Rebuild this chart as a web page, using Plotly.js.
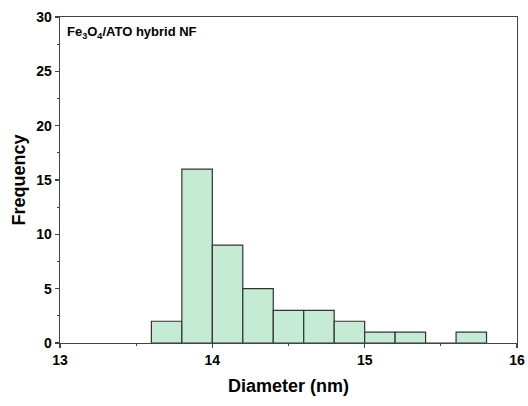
<!DOCTYPE html>
<html>
<head>
<meta charset="utf-8">
<script src="https://cdn.plot.ly/plotly-3.0.1.min.js"></script>
<style>html,body{margin:0;padding:0;background:#fff;}#chart{width:528px;height:406px;}</style>
</head>
<body>
<div id="chart"></div>
<script>
const binCenters = [13.7, 13.9, 14.1, 14.3, 14.5, 14.7, 14.9, 15.1, 15.3, 15.5, 15.7];
const frequency = [2, 16, 9, 5, 3, 3, 2, 1, 1, 0, 1];
const binWidth = 0.2;
const xTicks = [13, 14, 15, 16];
const yTicks = [0, 5, 10, 15, 20, 25, 30];
const labelText = '<b>Fe<sub>3</sub>O<sub>4</sub>/ATO hybrid NF</b>';

const font = 'Arial, "Liberation Sans", sans-serif';
const axisCommon = {
  showline: true, mirror: true, linecolor: '#444', linewidth: 1.3,
  ticks: 'outside', ticklen: 4, tickwidth: 1.3, tickcolor: '#444',
  showgrid: false, zeroline: false,
  tickfont: {family: font, size: 14, color: '#000'},
  minor: {ticks: 'outside', ticklen: 2, tickwidth: 1.2, tickcolor: '#444', showgrid: false}
};

const data = [{
  type: 'bar', x: binCenters, y: frequency, width: binWidth,
  marker: {color: '#c5ebd5', line: {color: '#333', width: 1.2}},
  hoverinfo: 'none'
}];

const layout = {
  width: 528, height: 406,
  margin: {l: 60, r: 11, t: 16.5, b: 62.5},
  paper_bgcolor: '#fff', plot_bgcolor: '#fff',
  showlegend: false,
  xaxis: Object.assign({}, axisCommon, {
    range: [13, 16], tickvals: xTicks, ticktext: xTicks.map(v => '<b>' + v + '</b>'),
    minor: Object.assign({}, axisCommon.minor, {tickvals: [13.5, 14.5, 15.5]}),
    title: {text: '<b>Diameter (nm)</b>', font: {family: font, size: 18, color: '#000'}, standoff: 12}
  }),
  yaxis: Object.assign({}, axisCommon, {
    range: [0, 30], tickvals: yTicks, ticktext: yTicks.map(v => '<b>' + v + '</b>'),
    minor: Object.assign({}, axisCommon.minor, {tickvals: [2.5, 7.5, 12.5, 17.5, 22.5, 27.5]}),
    title: {text: '<b>Frequency</b>', font: {family: font, size: 18, color: '#000'}, standoff: 6}
  }),
  annotations: [{
    text: labelText, xref: 'paper', yref: 'paper', x: 0.012, y: 0.985,
    xanchor: 'left', yanchor: 'top', showarrow: false,
    font: {family: font, size: 13, color: '#000'}
  }]
};

Plotly.newPlot('chart', data, layout, {displayModeBar: false, staticPlot: true});
</script>
</body>
</html>
